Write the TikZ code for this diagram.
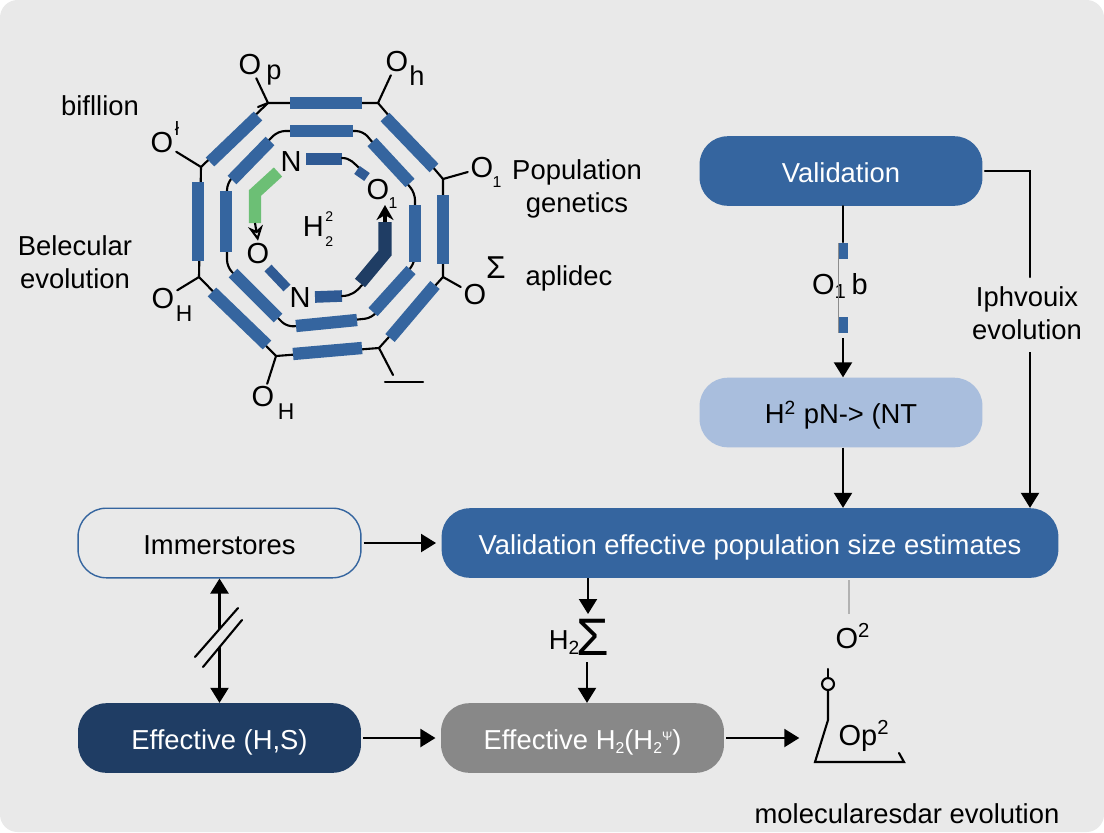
\documentclass[tikz,border=0pt]{standalone}
\usepackage{fontspec}
\setmainfont{Liberation Sans}
\usepackage{tikz}
\usetikzlibrary{positioning,arrows.meta,calc}
\definecolor{pagebg}{HTML}{E9E9E9}
\definecolor{blueA}{HTML}{35659F}
\definecolor{blueB}{HTML}{A9BEDD}
\definecolor{blueC}{HTML}{1F3D64}
\definecolor{blueD}{HTML}{2F5A94}
\definecolor{greyA}{HTML}{888888}
\definecolor{greenA}{HTML}{6CBF75}
\newcommand{\tinysub}[1]{\raisebox{-2.5pt}{\fontsize{9}{9}\selectfont #1}}
\newcommand{\tinysup}[1]{\raisebox{5pt}{\fontsize{7}{7}\selectfont #1}}
\tikzset{
  >={Triangle[length=3mm,width=3.6mm]},
  flowbox/.style={rounded corners=16pt,minimum width=161pt,minimum height=39.6pt,
    inner sep=0pt,text height=14pt,text depth=1.4pt,
    font=\fontsize{15.6}{18}\selectfont,text=white},
  flow/.style={->,line width=1.2pt,black},
  bond/.style={line width=1.2pt,black,line cap=round},
  ringbar/.style={blueA,line width=7pt},
  innerbar/.style={blueD,line width=6.6pt},
  atom/.style={font=\fontsize{16.5}{18}\selectfont,inner sep=1.5pt},
  subatom/.style={font=\fontsize{15.5}{16}\selectfont,inner sep=0pt},
  tinyatom/.style={font=\fontsize{9}{9}\selectfont,inner sep=0pt},
  lbl/.style={font=\fontsize{15.6}{18.5}\selectfont,align=center,inner sep=0pt},
}
\begin{document}
\begin{tikzpicture}[x=0.02cm,y=-0.02cm]
  \useasboundingbox (0,0) rectangle (1104,832);
  \fill[white] (0,0) rectangle (1104,832);
  \fill[pagebg,rounded corners=10pt] (0,0) rectangle (1104,832);

  % flow boxes
  \node[flowbox,fill=blueA] (valid) at (841,171) {Validation};
  \node[flowbox,fill=blueB,text=black] (hbox) at (841,412.5) {H\textsuperscript{2} pN-> (NT};
  \node[flowbox,fill=blueA,minimum width=351pt] (main) at (750,543) {Validation effective population size estimates};
  \node[flowbox,draw=blueA,line width=0.8pt,text=black] (immer) at (219.5,543) {Immerstores};
  \node[flowbox,fill=blueC] (effhs) at (219.5,738) {Effective (H,S)};
  \node[flowbox,fill=greyA] (effh) at (582.5,738) {Effective H\tinysub{2}(H\tinysub{2}\tinysup{Ψ})};

  % labels on the arrows
  \node[atom,inner sep=0pt] (oneb) at (840,286) {O\textsubscript{1}\,b};
  \node[lbl] (iphv) at (1027,313) {Iphvouix\\evolution};
  \node[lbl] (hsum) at (579,637) {H\textsubscript{2}\hspace{-2pt}\raisebox{-3pt}{\fontsize{30}{30}\selectfont Σ}};
  \node[atom,inner sep=0pt] (otwo) at (853,636) {O\textsuperscript{2}};
  \node[atom,inner sep=0pt] (optwo) at (864,736) {Op\textsuperscript{2}};
  \node[lbl] (molev) at (907,814) {molecularesdar evolution};

  \coordinate (va) at (843,242);
  \coordinate (vb) at (843,338);
  \coordinate (ra) at (1030,277);
  \coordinate (rb) at (1030,352);
  \coordinate (ma) at (588,614);
  \coordinate (mb) at (587,662);
  \coordinate (ga) at (849,580);
  \coordinate (gb) at (849,614);

  \draw[bond] (valid.south -| va) -- (va);
  \draw[flow] (vb) -- (hbox.north -| vb);
  \draw[blueA,line width=5.5pt] (843,243) -- (843,259);
  \draw[blueA,line width=5.5pt] (843,317) -- (843,333);
  \draw[black!45,line width=0.4pt] (838,243) -- (838,333);
  \draw[flow] (hbox.south -| vb) -- (main.north -| vb);
  \draw[bond] (valid.east) ++(2,0) -- (valid.east -| ra) -- (ra);
  \draw[flow] (rb) -- (main.north -| rb);
  \draw[flow] (immer.east) ++(2,0) -- ([xshift=-3pt]main.west);
  \draw[flow] (effhs.east) ++(2,0) -- ([xshift=-3pt]effh.west);
  \draw[flow] (effh.east) ++(2,0) -- ++(73,0);
  \draw[flow,<->] (immer.south) -- (effhs.north);
  \draw[flow] (main.south -| ma) -- (ma);
  \draw[flow] (mb) -- (effh.north -| mb);
  \draw[black!30,line width=0.8pt] (ga) -- (gb);

  % slashes over the double arrow
  \fill[pagebg] (195,657) -- (238,608) -- (242,620) -- (203,667) -- cycle;
  \draw[bond] (195,657) -- (238,608);
  \draw[bond] (203,667) -- (242,620);

  % small mark beside Op2
  \node[circle,draw,line width=1.2pt,minimum size=6.8pt,inner sep=0pt] (ring) at (828,684) {};
  \draw[bond] (828,669) -- (ring.north);
  \draw[bond] (ring.south) -- (828,720) -- (815,762) -- (904,762) -- (899,753);

  % outer ring
  \draw[line width=1.2pt] (268,103) -- (378,103) -- (443,179) -- (443,277) -- (379,348) -- (276,356) -- (199,277) -- (201,167) -- cycle;
  \draw[ringbar] (290,103) -- (362,103);
  \draw[ringbar] (385,117) -- (434,168);
  \draw[ringbar] (443,195) -- (443,264);
  \draw[ringbar] (435,285) -- (390,338);
  \draw[ringbar] (293,354) -- (362,348);
  \draw[ringbar] (267,345) -- (212,292);
  \draw[ringbar] (198,182) -- (198,261);
  \draw[ringbar] (258,116) -- (210,162);

  % middle ring
  \draw[line width=1.2pt,rounded corners=4pt] (278,131) -- (363,131) -- (415,193) -- (415,262) -- (372,318) -- (287,327) -- (227,267) -- (227,183) -- cycle;
  \draw[ringbar] (290,131) -- (353,131);
  \draw[ringbar] (372,142) -- (410,183);
  \draw[ringbar] (415,205) -- (415,262);
  \draw[ringbar] (411,270) -- (373,312);
  \draw[ringbar] (296,326) -- (357,320);
  \draw[ringbar] (278,318) -- (233,273);
  \draw[ringbar] (226,191) -- (226,252);
  \draw[ringbar] (270,141) -- (232,180);

  % inner ring
  \node[atom] (na) at (291,162) {N};
  \node[atom] (nb) at (300,298) {N};
  \node[atom] (oa) at (258,254) {O};
  \node[atom] (ob) at (378,190) {O};
  \node[tinyatom] (obs) at (393,203) {1};
  \node[atom,inner sep=0pt] (hh) at (318,229) {H\hspace{1pt}\rlap{\raisebox{8.5pt}{\fontsize{8}{8}\selectfont 2}}\raisebox{-6pt}{\fontsize{8}{8}\selectfont 2}};
  \draw[innerbar] (306,159) -- (342,159);
  \draw[bond] (342,158) to[out=0,in=135] (360,169);
  \draw[innerbar,line width=5.5pt] (357,170) -- (367,177);
  \draw[line width=7pt,greenA] (278,172) -- (255,193) -- (255,223);
  \draw[->,line width=1.2pt,>={Stealth[length=3mm,width=3mm,open,fill=none]}] (255,223) -- (oa.north);
  \draw[innerbar,line width=5.5pt] (268,268) -- (287,288);
  \draw[innerbar] (315,297) -- (342,296);
  \draw[bond] (342,296) to[out=0,in=-130] (362,285);
  \draw[line width=7.5pt,blueC] (360,283) -- (385,253) -- (385,222);
  \draw[->,line width=2pt,>={Stealth[length=3mm,width=3.4mm]}] (385,222) -- (385,205);

  % side groups
  \node[atom] (op) at (250,65) {O};
  \node[subatom] (opp) at (274,75) {p};
  \node[atom] (oh) at (397,62) {O};
  \node[subatom] (ohh) at (417,76) {h};
  \node[atom] (oc) at (482,168) {O};
  \node[tinyatom] (ocs) at (497,182) {1};
  \node[atom] (os) at (475,295) {O};
  \node[subatom,font=\fontsize{18}{18}\selectfont] (oss) at (496,268) {Σ};
  \node[atom] (oha) at (263,397) {O};
  \node[subatom,font=\fontsize{13}{14}\selectfont] (ohas) at (286,412) {H};
  \node[atom] (ohb) at (163,299) {O};
  \node[subatom,font=\fontsize{13}{14}\selectfont] (ohbs) at (184,314) {H};
  \node[atom] (ot) at (162,143) {O};
  \node[tinyatom,font=\fontsize{11}{11}\selectfont] (ots) at (177,128) {ł};
  \coordinate (bt) at (393,375);
  \draw[bond] (268,103) -- (op);
  \draw[bond] (258,107) -- (268,103);
  \draw[bond] (378,103) -- (oh);
  \draw[bond] (443,179) -- (oc);
  \draw[bond] (443,277) -- (os);
  \draw[bond] (379,348) -- (bt);
  \draw[bond] (385,382) -- (423,382);
  \draw[bond] (276,356) -- (oha);
  \draw[bond] (199,277) -- (ohb);
  \draw[bond] (201,167) -- (ot);

  % labels round the ring
  \node[lbl] (bif) at (100,106) {bifllion};
  \node[lbl] (bel) at (75,262) {Belecular\\evolution};
  \node[lbl] (pop) at (577,189) {Population\\genetics};
  \node[lbl] (apl) at (569,278) {aplidec};
\end{tikzpicture}
\end{document}
